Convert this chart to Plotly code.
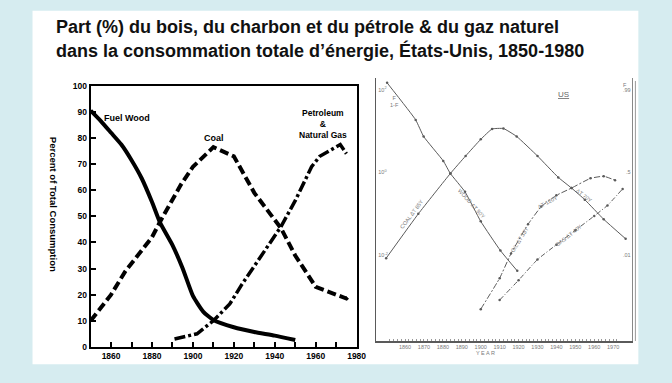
import plotly.graph_objects as go

W, H = 672, 383

# ---------------- Data: left chart (percent of total consumption) -------------
wood_years = [1850, 1855, 1860, 1865, 1870, 1875, 1880, 1884, 1890, 1895, 1900, 1905, 1910, 1920, 1930, 1940, 1950]
wood_pct = [90.5, 86.5, 82, 77.5, 71.5, 64.5, 55.5, 47.5, 39, 30, 19.5, 13.5, 10.3, 7.5, 5.7, 4.3, 2.6]

coal_years = [1850, 1860, 1867, 1870, 1880, 1884, 1890, 1894, 1900, 1910, 1920, 1930, 1943, 1950, 1960, 1975, 1977]
coal_pct = [10, 20, 29, 32, 42, 48, 56, 62, 69, 76.5, 73, 59, 45.5, 35, 23, 18.5, 20]

oil_years = [1891, 1902, 1910, 1918, 1924, 1930, 1943, 1950, 1958, 1962, 1972, 1975]
oil_pct = [3, 5, 10, 16.4, 24, 31, 46, 56, 69, 73, 77.5, 74]

left_x_ticks = list(range(1860, 1990, 10))
left_x_labels = [str(y) if y % 20 == 0 else "" for y in left_x_ticks]
left_y_ticks = list(range(0, 110, 10))

# ---------------- Data: right chart (Fisher-Pry, F/(1-F)) --------------------
r_wood_years = [1850.5, 1865.6, 1869.8, 1880.2, 1883.9, 1891.7, 1900, 1910.4, 1919.3]
r_wood_ratio = [146, 18.6, 7.4, 1.9, 0.95, 0.34, 0.066, 0.013, 0.0042]

r_coal_years = [1850, 1867, 1884, 1892, 1900, 1906, 1912, 1919, 1930, 1941, 1948, 1955, 1965, 1976.6]
r_coal_ratio = [0.0085, 0.1, 0.95, 2.5, 6.3, 11.2, 11.5, 7.4, 2.5, 0.76, 0.42, 0.22, 0.074, 0.025]

r_oil_years = [1900, 1910, 1916, 1925, 1932, 1940, 1948, 1958, 1965, 1971]
r_oil_ratio = [0.0005, 0.0028, 0.011, 0.056, 0.15, 0.28, 0.42, 0.72, 0.81, 0.65]

r_gas_years = [1910, 1920, 1930, 1940, 1950, 1960, 1967, 1975]
r_gas_ratio = [0.00083, 0.0025, 0.0079, 0.018, 0.04, 0.089, 0.16, 0.4]

right_x_ticks = list(range(1850, 1980, 10))
right_y_ticks = [100, 1, 0.01, 0.0001]
right_y_left_labels = ["10<sup>2</sup>", "10<sup>0</sup>", "10<sup>-2</sup>", "10<sup>-4</sup>"]
right_y_right_labels = [".99", ".5", ".01", ".0001"]

FONT = "Liberation Sans, Arial, sans-serif"
SCAN = "#5a5a5a"
SCAN_TXT = "#7a7a7a"

def px_x(p):
    return p / W

def px_y(p):
    return 1 - p / H

fig = go.Figure()

# left chart traces
fig.add_trace(go.Scatter(x=wood_years, y=wood_pct, mode="lines", xaxis="x", yaxis="y",
                         line=dict(color="black", width=4, shape="spline", smoothing=0.5),
                         showlegend=False, hoverinfo="skip"))
fig.add_trace(go.Scatter(x=coal_years, y=coal_pct, mode="lines", xaxis="x", yaxis="y",
                         line=dict(color="black", width=4, dash="9px,4px"),
                         showlegend=False, hoverinfo="skip"))
fig.add_trace(go.Scatter(x=oil_years, y=oil_pct, mode="lines", xaxis="x", yaxis="y",
                         line=dict(color="black", width=3.5, dash="11px,3px,3px,3px"),
                         showlegend=False, hoverinfo="skip"))

# right chart traces
for xs, ys, dash in [(r_wood_years, r_wood_ratio, "solid"),
                     (r_coal_years, r_coal_ratio, "solid"),
                     (r_oil_years, r_oil_ratio, "6px,2px,2px,2px"),
                     (r_gas_years, r_gas_ratio, "5px,2px,1px,2px")]:
    fig.add_trace(go.Scatter(x=xs, y=ys, mode="lines+markers", xaxis="x2", yaxis="y2",
                             line=dict(color=SCAN, width=1, dash=dash, shape="spline", smoothing=0.4),
                             marker=dict(size=2.5, color=SCAN),
                             showlegend=False, hoverinfo="skip"))
# invisible trace for the right-hand F axis
fig.add_trace(go.Scatter(x=[1900], y=[1], mode="markers", xaxis="x2", yaxis="y3",
                         marker=dict(opacity=0), showlegend=False, hoverinfo="skip"))

annotations = []
# title
annotations.append(dict(text="<b>Part (%) du bois, du charbon et du pétrole & du gaz naturel</b>",
                        x=px_x(55), y=px_y(23), xref="paper", yref="paper", xanchor="left", yanchor="middle",
                        showarrow=False, font=dict(family=FONT, size=18, color="#111")))
annotations.append(dict(text="<b>dans la consommation totale d’énergie, États-Unis, 1850-1980</b>",
                        x=px_x(55), y=px_y(47), xref="paper", yref="paper", xanchor="left", yanchor="middle",
                        showarrow=False, font=dict(family=FONT, size=18, color="#111")))
# left y title
annotations.append(dict(text="<b>Percent of Total Consumption</b>", textangle=90,
                        x=px_x(47), y=px_y(205), xref="paper", yref="paper",
                        showarrow=False, font=dict(family=FONT, size=9.5, color="black")))
# series labels
annotations.append(dict(text="<b>Fuel Wood</b>", x=1867.8, y=87.7, xref="x", yref="y",
                        showarrow=False, font=dict(family=FONT, size=9, color="black")))
annotations.append(dict(text="<b>Coal</b>", x=1910.2, y=80, xref="x", yref="y",
                        showarrow=False, font=dict(family=FONT, size=9, color="black")))
annotations.append(dict(text="<b>Petroleum<br>&<br>Natural Gas</b>", x=1963.4, y=85.5, xref="x", yref="y",
                        showarrow=False, font=dict(family=FONT, size=8.5, color="black")))

# right scan labels
small = dict(family=FONT, size=5.5, color=SCAN_TXT)
annotations.append(dict(text="<u>US</u>", x=1943.7, y=1.88, xref="x2", yref="y2", showarrow=False,
                        font=dict(family=FONT, size=8, color="#666")))
annotations.append(dict(text="F<br>1-F", x=1854.5, y=1.72, xref="x2", yref="y2", showarrow=False,
                        font=dict(family=FONT, size=5.5, color=SCAN_TXT)))
annotations.append(dict(text="Y E A R", x=px_x(505), y=px_y(362), xref="paper", yref="paper", showarrow=False,
                        font=dict(family=FONT, size=5.5, color=SCAN_TXT)))
annotations.append(dict(text="F", x=px_x(638), y=px_y(77), xref="paper", yref="paper", showarrow=False,
                        font=dict(family=FONT, size=5.5, color=SCAN_TXT)))
for txt, xx, yy, ang in [("COAL ΔT 85Y", 1863.5, -1.0, -53),
                         ("WOOD ΔT 80Y", 1895.5, -0.75, 48),
                         ("ΔT 120Y", 1935.5, -0.72, -28),
                         ("ΔT 70Y", 1955.0, -0.56, 38),
                         ("OIL ΔT 33Y", 1920.3, -1.62, -58),
                         ("GAS ΔT 40Y", 1946.9, -1.52, -38)]:
    annotations.append(dict(text=txt, x=xx, y=yy, xref="x2", yref="y2", showarrow=False,
                            textangle=ang, font=small))

shapes = [
    dict(type="rect", xref="paper", yref="paper", x0=px_x(33), x1=px_x(648), y0=px_y(369), y1=px_y(6),
         fillcolor="white", line=dict(width=0), layer="below"),
    dict(type="line", xref="paper", yref="paper", x0=px_x(645), x1=px_x(645), y0=px_y(345), y1=px_y(78),
         line=dict(color="#999", width=1)),
]

tick_font_left = dict(family=FONT, size=8.5, color="black")

fig.update_layout(
    width=W, height=H,
    margin=dict(l=0, r=0, t=0, b=0),
    paper_bgcolor="#d6ecf0",
    plot_bgcolor="rgba(0,0,0,0)",
    showlegend=False,
    annotations=annotations,
    shapes=shapes,
    xaxis=dict(domain=[px_x(92), px_x(362)], range=[1850, 1980], anchor="y",
               tickmode="array", tickvals=left_x_ticks,
               ticktext=[f"<b>{t}</b>" if t else "" for t in left_x_labels],
               ticks="inside", ticklen=5, tickwidth=1.5, tickcolor="black",
               showline=True, linecolor="black", linewidth=2, mirror=True,
               showgrid=False, zeroline=False, tickfont=tick_font_left),
    yaxis=dict(domain=[px_y(351), px_y(83)], range=[0, 100], anchor="x",
               tickmode="array", tickvals=left_y_ticks,
               ticktext=[f"<b>{t}</b>" for t in left_y_ticks],
               ticks="inside", ticklen=5, tickwidth=1.5, tickcolor="black",
               showline=True, linecolor="black", linewidth=2, mirror=True,
               showgrid=False, zeroline=False, tickfont=tick_font_left),
    xaxis2=dict(domain=[px_x(382), px_x(642)], range=[1844.8, 1980.2], anchor="y2",
                tickmode="array", tickvals=right_x_ticks, ticktext=[str(t) for t in right_x_ticks],
                ticks="", showline=True, linecolor=SCAN, linewidth=1.5,
                minor=dict(ticks="inside", ticklen=2, dtick=2, tickcolor="#999"),
                showgrid=False, zeroline=False,
                tickfont=dict(family=FONT, size=5.5, color=SCAN_TXT)),
    yaxis2=dict(domain=[px_y(345), px_y(75)], type="log", range=[-4.07, 2.28], anchor="x2",
                tickmode="array", tickvals=right_y_ticks, ticktext=right_y_left_labels,
                ticklabelposition="inside", ticks="",
                showline=True, linecolor=SCAN, linewidth=1.2,
                showgrid=False, zeroline=False,
                tickfont=dict(family=FONT, size=5.5, color=SCAN_TXT)),
    yaxis3=dict(overlaying="y2", side="right", type="log", range=[-4.07, 2.28], anchor="x2",
                tickmode="array", tickvals=right_y_ticks, ticktext=right_y_right_labels,
                ticklabelposition="inside", ticks="",
                showline=True, linecolor="#888", linewidth=1,
                showgrid=False, zeroline=False,
                tickfont=dict(family=FONT, size=5.5, color=SCAN_TXT)),
)

fig.write_html("out.html", config={"displayModeBar": False},
               post_script="document.body.style.margin='0px';")
